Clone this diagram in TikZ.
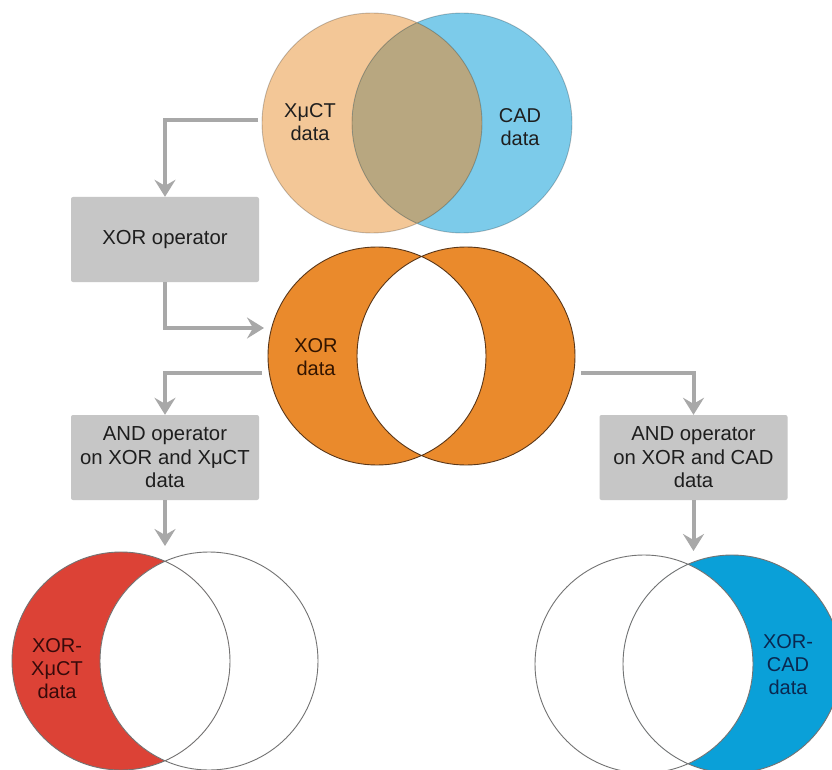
\documentclass[tikz,border=0pt]{standalone}
\usepackage{fontspec}
\setmainfont{Liberation Sans}
\usetikzlibrary{arrows.meta}
\definecolor{peach}{HTML}{F3C797}
\definecolor{cadblue}{HTML}{7CCBEA}
\definecolor{overlapc}{HTML}{B8A780}
\definecolor{xororange}{HTML}{EA8A2C}
\definecolor{xorred}{HTML}{DC4236}
\definecolor{xorblue}{HTML}{0AA0D8}
\definecolor{boxgray}{HTML}{C6C6C6}
\definecolor{arrowgray}{HTML}{A8A8A8}
\definecolor{textc}{HTML}{1E1E1E}
\begin{document}
\begin{tikzpicture}[x=1pt,y=-1pt,
  opbox/.style={fill=boxgray, minimum width=188pt, minimum height=85pt, rounded corners=2pt,
    align=center, inner sep=0pt, text=textc, font=\fontsize{20.3}{23.5}\selectfont},
  vcirc/.style={circle, inner sep=0pt, minimum size=#1},
  lbl/.style={align=center, inner sep=0pt, font=\fontsize{20}{23}\selectfont},
  flow/.style={draw=arrowgray, line width=4pt, -{Stealth[length=17pt,width=21pt,inset=6pt]}},
  thinline/.style={line width=0.9pt}
]
\clip (0,0) rectangle (832,770);
\fill[white] (0,0) rectangle (832,770);

% ---------- top Venn ----------
\node[vcirc=220pt] (tL) at (372,123) {};
\node[vcirc=220pt] (tR) at (462,123) {};
\fill[peach] (tL.center) circle (110pt);
\fill[cadblue] (tR.center) circle (110pt);
\begin{scope}
  \clip (tL.center) circle (110pt);
  \fill[overlapc] (tR.center) circle (110pt);
\end{scope}
\draw[thinline, draw=black, draw opacity=0.22] (tL.center) circle (110pt) (tR.center) circle (110pt);
\node[lbl, text=textc] (tLlab) at (310,122) {XμCT\\data};
\node[lbl, text=textc] (tRlab) at (520,127) {CAD\\data};

% ---------- XOR operator box ----------
\node[opbox] (xorop) at (165,239.5) {XOR operator};

% ---------- middle XOR Venn ----------
\node[vcirc=218pt] (mL) at (377,356) {};
\node[vcirc=218pt] (mR) at (466,356) {};
\fill[xororange, even odd rule] (mL.center) circle (109pt) (mR.center) circle (109pt);
\draw[thinline, draw={rgb,255:red,90;green,55;blue,25}] (mL.center) circle (109pt) (mR.center) circle (109pt);
\node[lbl, text={rgb,255:red,50;green,20;blue,0}] (mlab) at (316,357) {XOR\\data};

% ---------- AND boxes ----------
\node[opbox] (andL) at (165,457.5) {AND operator\\on XOR and XμCT\\data};
\node[opbox] (andR) at (693.5,457.5) {AND operator\\on XOR and CAD\\data};

% ---------- bottom-left Venn ----------
\node[vcirc=218pt] (bL1) at (121,661) {};
\node[vcirc=218pt] (bL2) at (209,661) {};
\fill[xorred] (bL1.center) circle (109pt);
\begin{scope}
  \clip (bL1.center) circle (109pt);
  \fill[white] (bL2.center) circle (109pt);
\end{scope}
\draw[thinline, draw=black!55] (bL1.center) circle (109pt) (bL2.center) circle (109pt);
\node[lbl, text={rgb,255:red,55;green,10;blue,10}] (bLlab) at (57,669) {XOR-\\XμCT\\data};

% ---------- bottom-right Venn ----------
\node[vcirc=218pt] (bR1) at (644,664) {};
\node[vcirc=218pt] (bR2) at (732,664) {};
\fill[xorblue] (bR2.center) circle (109pt);
\begin{scope}
  \clip (bR2.center) circle (109pt);
  \fill[white] (bR1.center) circle (109pt);
\end{scope}
\draw[thinline, draw=black!55] (bR1.center) circle (109pt) (bR2.center) circle (109pt);
\node[lbl, text={rgb,255:red,10;green,40;blue,80}] (bRlab) at (788,665) {XOR-\\CAD\\data};

% ---------- connectors ----------
\coordinate (s1) at (258,120);
\coordinate (e2) at (264,328);
\coordinate (s3) at (262,373);
\coordinate (s4) at (581,373);
\coordinate (e5) at (165,546);
\coordinate (e6) at (693.5,551);
\draw[flow] (s1) -| (xorop.north);
\draw[flow] (xorop.south) |- (e2);
\draw[flow] (s3) -| (andL.north);
\draw[flow] (s4) -| (andR.north);
\draw[flow] (andL.south) -- (e5);
\draw[flow] (andR.south) -- (e6);
\end{tikzpicture}
\end{document}
